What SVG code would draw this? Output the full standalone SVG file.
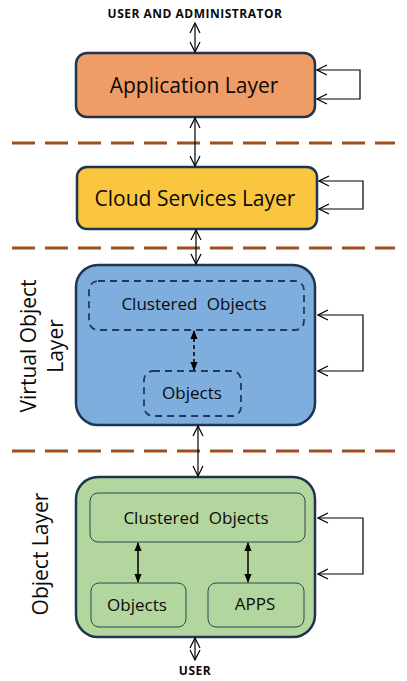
<svg xmlns="http://www.w3.org/2000/svg" width="407" height="681" viewBox="0 0 407 681">
<defs>
<marker id="open" viewBox="0 0 12 12" refX="11" refY="6" markerWidth="12" markerHeight="12" markerUnits="userSpaceOnUse" orient="auto-start-reverse">
<path d="M1,1 L11,6 L1,11" fill="none" stroke="#000" stroke-width="1.2"/>
</marker>
<marker id="solid" viewBox="0 0 10 10" refX="9" refY="5" markerWidth="9" markerHeight="9" markerUnits="userSpaceOnUse" orient="auto-start-reverse">
<path d="M0,1 L10,5 L0,9 Z" fill="#000"/>
</marker>
<style>
.lbl{font-family:"Open Sans","Liberation Sans",sans-serif;fill:#0a0a0a;text-anchor:middle}
.big{font-size:21px}
.mid{font-size:17px}
.wide{word-spacing:5px}
.sm{font-size:12px;font-weight:bold;letter-spacing:0.5px}
.sep{stroke:#9E4F1D;stroke-width:3;stroke-dasharray:23 10;fill:none}
.conn{stroke:#000;stroke-width:1.2;fill:none}
.layer{stroke:#1E3550;stroke-width:2.5}
</style>
</defs>

<g id="separators">
<line class="sep" x1="12" y1="143" x2="395" y2="143"/>
<line class="sep" x1="12" y1="248" x2="395" y2="248"/>
<line class="sep" x1="12" y1="451" x2="395" y2="451"/>
</g>

<g id="user-admin"><text class="lbl sm" x="195" y="18">USER AND ADMINISTRATOR</text></g>

<g id="application-layer">
<rect class="layer" x="76" y="53" width="239" height="64" rx="11" fill="#F09C66"/>
<text class="lbl big" x="194" y="93">Application Layer</text>
</g>

<g id="cloud-services-layer">
<rect class="layer" x="77" y="167" width="240" height="62" rx="10" fill="#FAC63F"/>
<text class="lbl big" x="195" y="206">Cloud Services Layer</text>
</g>

<g id="virtual-object-layer">
<rect class="layer" x="76" y="265" width="239" height="160" rx="22" fill="#7DAEDE"/>
<text class="lbl big" transform="translate(36,346) rotate(-90)">Virtual Object</text>
<text class="lbl big" transform="translate(63,346) rotate(-90)">Layer</text>
</g>

<g id="virtual-clustered-objects">
<rect x="89" y="281" width="215" height="49" rx="9" fill="none" stroke="#1E3A64" stroke-width="1.8" stroke-dasharray="7 5"/>
<text class="lbl mid wide" x="194" y="310">Clustered Objects</text>
</g>

<g id="virtual-objects">
<rect x="144" y="371" width="97" height="45" rx="9" fill="none" stroke="#1E3A64" stroke-width="1.8" stroke-dasharray="7 5"/>
<text class="lbl mid" x="192" y="399">Objects</text>
</g>

<g id="object-layer">
<rect class="layer" x="76" y="477" width="239" height="160" rx="22" fill="#B3D69E"/>
<text class="lbl big" transform="translate(48,554) rotate(-90)">Object Layer</text>
</g>

<g id="object-clustered-objects">
<rect x="90" y="493" width="215" height="49" rx="8" fill="none" stroke="#2B4A4E" stroke-width="1"/>
<text class="lbl mid wide" x="196" y="524">Clustered Objects</text>
</g>

<g id="object-objects">
<rect x="91" y="583" width="95" height="44" rx="8" fill="none" stroke="#2B4A4E" stroke-width="1"/>
<text class="lbl mid" x="137" y="611">Objects</text>
</g>

<g id="object-apps">
<rect x="208" y="583" width="96" height="44" rx="8" fill="none" stroke="#2B4A4E" stroke-width="1"/>
<text class="lbl mid" x="255" y="610">APPS</text>
</g>

<g id="user"><text class="lbl sm" x="195" y="675">USER</text></g>

<g id="connectors">
<line class="conn" x1="195" y1="23" x2="195" y2="52" marker-start="url(#open)" marker-end="url(#open)"/>
<line class="conn" x1="195" y1="118" x2="195" y2="166" marker-start="url(#open)" marker-end="url(#open)"/>
<line class="conn" x1="196" y1="230" x2="196" y2="264" marker-start="url(#open)" marker-end="url(#open)"/>
<line class="conn" x1="198" y1="426" x2="198" y2="476" marker-start="url(#open)" marker-end="url(#open)"/>
<line class="conn" x1="195" y1="638" x2="195" y2="660" marker-start="url(#open)" marker-end="url(#open)"/>

<path class="conn" d="M317,70 H360 V99 H317" marker-start="url(#open)" marker-end="url(#open)"/>
<path class="conn" d="M319,181 H363 V209 H319" marker-start="url(#open)" marker-end="url(#open)"/>
<path class="conn" d="M318,315 H363 V371 H318" marker-start="url(#open)" marker-end="url(#open)"/>
<path class="conn" d="M318,518 H363 V574 H318" marker-start="url(#open)" marker-end="url(#open)"/>

<line x1="194" y1="331" x2="194" y2="370" stroke="#000" stroke-width="1.5" stroke-dasharray="4 3" marker-start="url(#solid)" marker-end="url(#solid)"/>
<line x1="138" y1="543" x2="138" y2="582" stroke="#000" stroke-width="1.5" marker-start="url(#solid)" marker-end="url(#solid)"/>
<line x1="248" y1="543" x2="248" y2="582" stroke="#000" stroke-width="1.5" marker-start="url(#solid)" marker-end="url(#solid)"/>
</g>
</svg>
